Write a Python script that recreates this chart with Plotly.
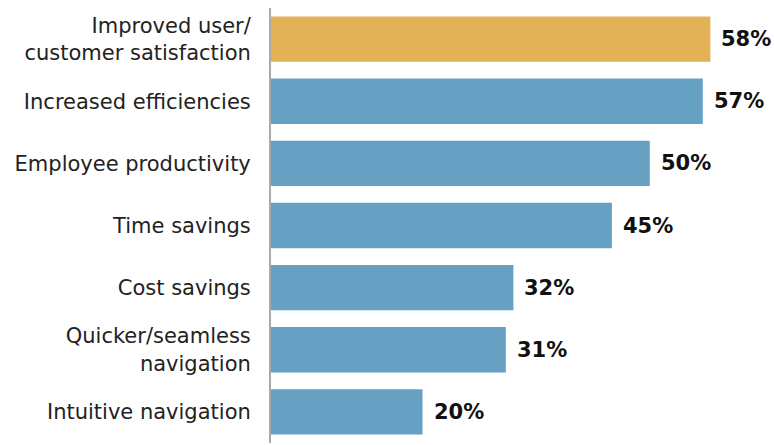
import plotly.graph_objects as go

# Survey results: reported benefits (share of respondents, %)
categories = [
    "Improved user/<br>customer satisfaction",
    "Increased efficiencies",
    "Employee productivity",
    "Time savings",
    "Cost savings",
    "Quicker/seamless<br>navigation",
    "Intuitive navigation",
]
values = [58, 57, 50, 45, 32, 31, 20]
highlight = "Improved user/<br>customer satisfaction"

gold = "#E3B257"
blue = "#66A0C3"
colors = [gold if c == highlight else blue for c in categories]

label_font = "DejaVu Sans, Open Sans, sans-serif"

fig = go.Figure(
    go.Bar(
        x=values,
        y=categories,
        orientation="h",
        marker=dict(color=colors, line=dict(width=0)),
        hoverinfo="skip",
    )
)

# Value labels to the right of each bar
for cat, v in zip(categories, values):
    fig.add_annotation(
        x=v,
        y=cat,
        text=f"<b>{v}%</b>",
        showarrow=False,
        xanchor="left",
        yanchor="middle",
        xshift=9,
        font=dict(family=label_font, size=21, color="#111111"),
    )

fig.update_layout(
    width=774,
    height=445,
    margin=dict(l=271, r=0, t=8, b=2),
    paper_bgcolor="white",
    plot_bgcolor="white",
    bargap=0.27,
    showlegend=False,
    font=dict(family=label_font, size=21, color="#222222"),
    xaxis=dict(
        range=[0, 66.4],
        visible=False,
        fixedrange=True,
    ),
    yaxis=dict(
        autorange="reversed",
        showline=True,
        linecolor="#AAAAAA",
        linewidth=2,
        showgrid=False,
        zeroline=False,
        ticks="",
        ticklabelstandoff=14,
        tickfont=dict(family=label_font, size=21, color="#222222"),
        fixedrange=True,
    ),
)

fig.write_html("out.html")
